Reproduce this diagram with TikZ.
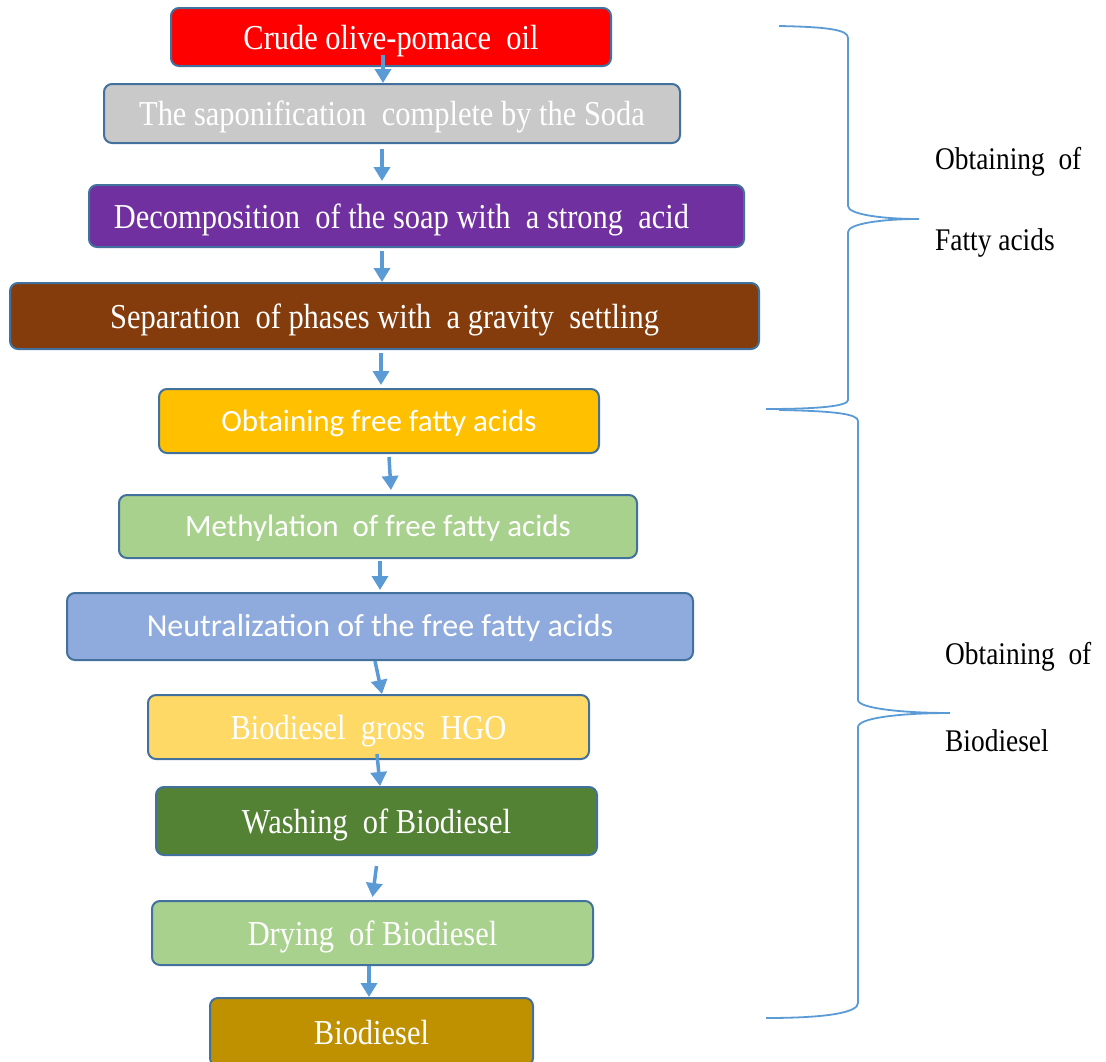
\documentclass[tikz,border=0pt]{standalone}
\usepackage{fontspec}
\setmainfont[FakeStretch=0.87]{Liberation Serif}
\newfontfamily\calib{Carlito}
\usetikzlibrary{arrows.meta}
\definecolor{bordc}{HTML}{41719C}
\definecolor{arrc}{HTML}{5B9BD5}
\definecolor{cred}{HTML}{FF0000}
\definecolor{cgray}{HTML}{C9C9C9}
\definecolor{cpurp}{HTML}{7030A0}
\definecolor{cbrown}{HTML}{843C0C}
\definecolor{corange}{HTML}{FFC000}
\definecolor{clgreen}{HTML}{A9D18E}
\definecolor{cblue}{HTML}{8FAADC}
\definecolor{cyellow}{HTML}{FFD966}
\definecolor{cdgreen}{HTML}{548235}
\definecolor{cgold}{HTML}{BF9000}
\begin{document}
\begin{tikzpicture}[x=1pt,y=-1pt,
  box/.style={draw=bordc, line width=2pt, rounded corners=8pt, text=white, inner sep=0pt,
    text height=24pt, text depth=0pt, font=\fontsize{35}{40}\selectfont},
  sbox/.style={box, text height=20pt, text depth=0pt, font=\calib\fontsize{31}{36}\selectfont},
  arr/.style={draw=arrc, line width=3.5pt, -{Triangle[length=14pt,width=16pt]}},
  brace/.style={draw=arrc, line width=1.8pt},
  lab/.style={anchor=west, inner sep=0pt, text=black, font=\fontsize{31.5}{36}\selectfont}]
\useasboundingbox (0,0) rectangle (1106,1061);
\node[box, fill=cred, minimum width=440, minimum height=58] (n1) at (391,37) {Crude olive-pomace\ \ oil};
\node[box, fill=cgray, minimum width=576, minimum height=59] (n2) at (392,113.5) {The saponification\ \ complete by the Soda};
\node[box, fill=cpurp, minimum width=655, minimum height=62] (n3) at (416.5,216) {Decomposition\ \ of the soap with\ \ a strong\ \ acid\hspace*{30pt}};
\node[box, fill=cbrown, minimum width=749, minimum height=66] (n4) at (384.5,316) {Separation\ \ of phases with\ \ a gravity\ \ settling};
\node[sbox, fill=corange, minimum width=440, minimum height=64] (n5) at (379,421) {Obtaining free fatty acids};
\node[sbox, fill=clgreen, minimum width=518, minimum height=63] (n6) at (378,526.5) {Methylation\ \ of free fatty acids};
\node[sbox, fill=cblue, minimum width=626, minimum height=67, font=\calib\fontsize{32}{36}\selectfont] (n7) at (380,626.5) {Neutralization of the free fatty acids};
\node[box, fill=cyellow, minimum width=441, minimum height=64] (n8) at (368.5,727) {Biodiesel\ \ gross\ \ HGO};
\node[box, fill=cdgreen, minimum width=441, minimum height=68] (n9) at (376.5,821) {Washing\ \ of Biodiesel};
\node[box, fill=clgreen, minimum width=441, minimum height=64] (n10) at (372.5,933) {Drying\ \ of Biodiesel};
\node[box, fill=cgold, minimum width=323, minimum height=68] (n11) at (371.5,1032) {Biodiesel};
\draw[arr] ([xshift=-8pt,yshift=12pt]n1.south) -- ([xshift=-9pt]n2.north);
\draw[arr] ([xshift=-10pt,yshift=-5pt]n2.south) -- ([xshift=-34.5pt,yshift=3pt]n3.north);
\draw[arr] ([xshift=-34.5pt,yshift=-3pt]n3.south) -- ([xshift=-2.5pt]n4.north);
\draw[arr] ([xshift=-3.5pt,yshift=-3pt]n4.south) -- ([xshift=2pt,yshift=3pt]n5.north);
\draw[arr] ([xshift=10pt,yshift=-3pt]n5.south) -- ([xshift=13pt,yshift=4pt]n6.north);
\draw[arr] ([xshift=2pt,yshift=-2pt]n6.south) -- ([yshift=2pt]n7.north);
\draw[arr] ([xshift=-5pt]n7.south) -- ([xshift=13.5pt]n8.north);
\draw[arr] ([xshift=8.5pt,yshift=6pt]n8.south) -- ([xshift=3.5pt]n9.north);
\draw[arr] ([yshift=-10pt]n9.south) -- ([yshift=3pt]n10.north);
\draw[arr] ([xshift=-3.5pt]n10.south) -- ([xshift=-2.5pt]n11.north);
% braces
\draw[brace] (779,26) .. controls (830,27) and (848,30) .. (848,38) -- (848,206)
  .. controls (848,214) and (880,219) .. (919,219)
  .. controls (880,219) and (848,224) .. (848,232) -- (848,400)
  .. controls (848,406) and (820,409) .. (766,409);
\draw[brace] (779,410) .. controls (835,411) and (858,414) .. (858,421) -- (858,700)
  .. controls (858,708) and (900,713) .. (950,713)
  .. controls (900,713) and (858,718) .. (858,727) -- (858,1003)
  .. controls (858,1012) and (830,1018) .. (766,1018);
\node[lab] (l1) at (935,162) {Obtaining\ \ of};
\node[lab] (l2) at (935,243) {Fatty acids};
\node[lab] (l3) at (945,657) {Obtaining\ \ of};
\node[lab] (l4) at (945,741) {Biodiesel};
\end{tikzpicture}
\end{document}
